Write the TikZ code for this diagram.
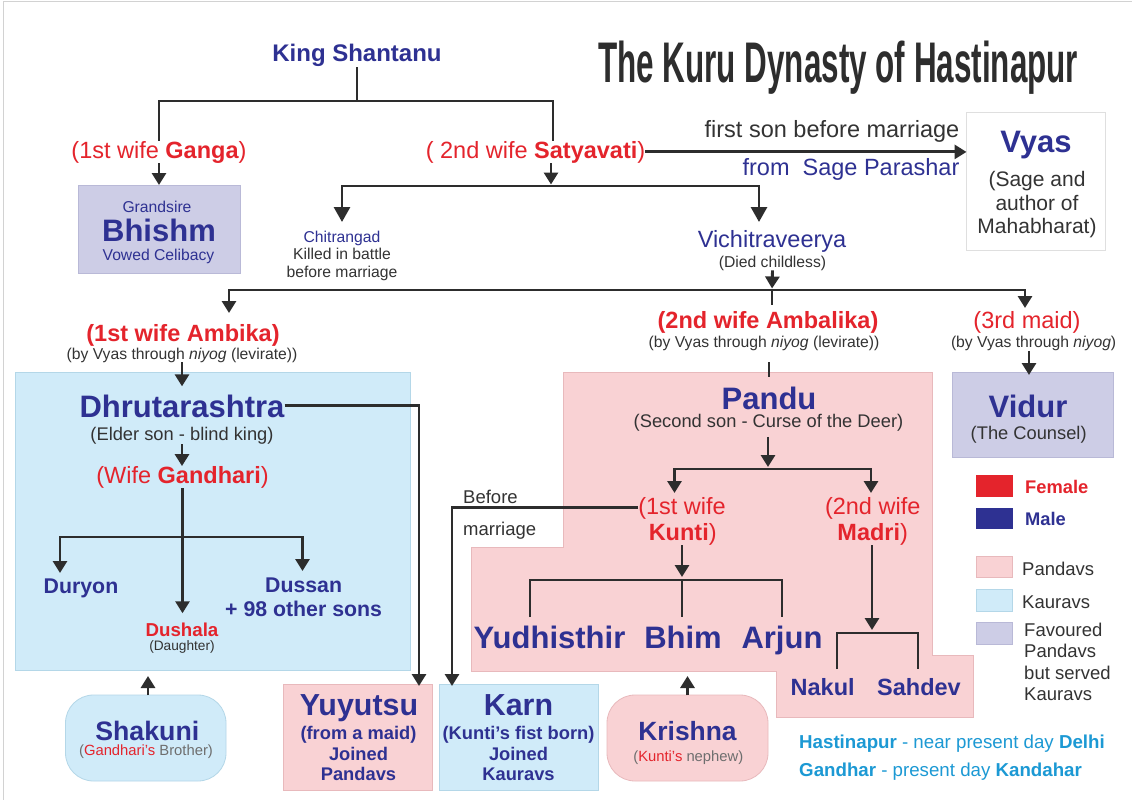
\documentclass[tikz,border=0pt]{standalone}
\usepackage{fontspec}
\setmainfont{Liberation Sans}
\usepackage{graphicx}
\usetikzlibrary{arrows.meta}
\definecolor{kblue}{RGB}{46,49,146}
\definecolor{kred}{RGB}{228,36,44}
\definecolor{kgray}{RGB}{51,51,51}
\definecolor{kline}{RGB}{45,45,45}
\definecolor{ktitle}{RGB}{45,45,45}
\definecolor{kpink}{RGB}{249,210,212}
\definecolor{kpinkb}{RGB}{232,185,188}
\definecolor{klblue}{RGB}{208,235,249}
\definecolor{klblueb}{RGB}{180,215,232}
\definecolor{klav}{RGB}{205,205,230}
\definecolor{klavb}{RGB}{185,185,215}
\definecolor{kcyan}{RGB}{28,153,212}
\definecolor{kmgray}{RGB}{110,110,110}
\newcommand\fz[1]{\fontsize{#1}{#1}\selectfont}
\begin{document}
\begin{tikzpicture}[x=1pt,y=-1pt,
  t/.style={inner sep=0pt, anchor=base},
  tl/.style={inner sep=0pt, anchor=base west},
  conn/.style={draw=kline, line width=2.9pt},
  arr/.style={conn, -{Triangle[length=12pt,width=14pt]}},
  bigarr/.style={conn, -{Triangle[length=15pt,width=16pt]}},
  box/.style={inner sep=0pt, outer sep=0pt, line width=0.8pt, anchor=north west},
  nm/.style={t, text=kblue, font={\fz{31}\bfseries}},
  wife/.style={t, text=kred, font={\fz{23.5}}},
  sub/.style={t, text=kgray, font={\fz{15.7}}},
  mid/.style={t, text=kgray, font={\fz{18.3}}},
]
\fill[white] (0,0) rectangle (1132,800);
\useasboundingbox (0,0) rectangle (1132,800);
\draw[gray!35, line width=1.2pt] (3.5,800) -- (3.5,1.5) -- (1132,1.5);

% title
\node[tl, text=ktitle] (title) at (598,82.7) {\resizebox{480pt}{\height}{\fz{57.3}\bfseries The Kuru Dynasty of Hastinapur}};

% boxes
\node[box, fill=klav, draw=klavb, minimum width=162pt, minimum height=88pt] (bhishmbox) at (78,185) {};
\node[box, fill=white, draw=gray!25, minimum width=138.5pt, minimum height=138pt] (vyasbox) at (966.5,112) {};
\node[box, fill=klblue, draw=klblueb, minimum width=395pt, minimum height=298pt] (kauravbox) at (15,372) {};
\fill[kpink, draw=kpinkb, line width=0.8pt] (563,372) -- (932,372) -- (932,655) -- (973,655) -- (973,717) -- (776,717) -- (776,671) -- (471,671) -- (471,547) -- (563,547) -- cycle;
\node[box, fill=klav, draw=klavb, minimum width=161pt, minimum height=85pt] (vidurbox) at (952,372) {};
\node[box, fill=kpink, draw=kpinkb, minimum width=149pt, minimum height=106pt] (yuyutsubox) at (283,684) {};
\node[box, fill=klblue, draw=klblueb, minimum width=159pt, minimum height=106pt] (karnbox) at (439,684) {};
\node[box, fill=klblue, draw=klblueb, rounded corners=28pt, minimum width=160.5pt, minimum height=86pt] (shakunibox) at (65.5,695) {};
\node[box, fill=kpink, draw=kpinkb, rounded corners=28pt, minimum width=161pt, minimum height=86pt] (krishnabox) at (607,695) {};

% legend
\node[box, fill=kred, minimum width=37pt, minimum height=22pt] (lgf) at (976,475) {};
\node[box, fill=kblue, minimum width=37pt, minimum height=21pt] (lgm) at (976,508) {};
\node[box, fill=kpink, draw=kpinkb, minimum width=36pt, minimum height=21pt] (lgp) at (976,556) {};
\node[box, fill=klblue, draw=klblueb, minimum width=36pt, minimum height=22pt] (lgk) at (976,589) {};
\node[box, fill=klav, draw=klavb, minimum width=36pt, minimum height=22pt] (lgv) at (976,622) {};
\node[tl, text=kred, font={\fz{18.3}\bfseries}] (lgft) at (1025,493.3) {Female};
\node[tl, text=kblue, font={\fz{18.3}\bfseries}] (lgmt) at (1025,525) {Male};
\node[tl, text=kgray, font={\fz{18.5}}] (lgpt) at (1022,575) {Pandavs};
\node[tl, text=kgray, font={\fz{18.5}}] (lgkt) at (1022,608.3) {Kauravs};
\node[tl, text=kgray, font={\fz{18.5}}] (lgv1) at (1024,636.7) {Favoured};
\node[tl, text=kgray, font={\fz{18.5}}] (lgv2) at (1024,657.3) {Pandavs};
\node[tl, text=kgray, font={\fz{18.5}}] (lgv3) at (1024,679.3) {but served};
\node[tl, text=kgray, font={\fz{18.5}}] (lgv4) at (1024,700) {Kauravs};

% top generation
\node[t, text=kblue, font={\fz{24}\bfseries}] (shantanu) at (357,62) {King Shantanu};
\node[wife] (ganga) at (159,158) {(1st wife \textbf{Ganga})};
\node[wife] (satyavati) at (535.5,158) {( 2nd wife \textbf{Satyavati})};
\node[t, text=kgray, font={\fz{23.5}}] (fsbm) at (832,137) {first son before marriage};
\node[t, text=kblue, font={\fz{23.5}}] (parashar) at (851,175) {from\ \ Sage Parashar};

\node[t, text=kblue, font={\fz{31}\bfseries}] (vyas) at (1036,152) {Vyas};
\node[t, text=kgray, font={\fz{21}}] (vyas1) at (1037,186) {(Sage and};
\node[t, text=kgray, font={\fz{21}}] (vyas2) at (1037,210) {author of};
\node[t, text=kgray, font={\fz{21}}] (vyas3) at (1037,233) {Mahabharat)};

\node[t, text=kblue, font={\fz{15.7}}] (grandsire) at (157,212) {Grandsire};
\node[nm] (bhishm) at (159,241) {Bhishm};
\node[t, text=kblue, font={\fz{15.7}}] (celibacy) at (158.5,260) {Vowed Celibacy};

\node[t, text=kblue, font={\fz{15.7}}] (chitrangad) at (342,242) {Chitrangad};
\node[sub] (chitra2) at (342,259.5) {Killed in battle};
\node[sub] (chitra3) at (342,277) {before marriage};

\node[t, text=kblue, font={\fz{23.5}}] (vichi) at (772,247) {Vichitraveerya};
\node[sub] (vichidied) at (772.5,267) {(Died childless)};

% second generation labels
\node[t, text=kred, font={\fz{23.5}\bfseries}] (ambika) at (183,341) {(1st wife Ambika)};
\node[sub] (ambikasub) at (182,359) {(by Vyas through \textit{niyog} (levirate))};
\node[t, text=kred, font={\fz{23.5}\bfseries}] (ambalika) at (768,328.4) {(2nd wife Ambalika)};
\node[sub] (ambalikasub) at (764,347.4) {(by Vyas through \textit{niyog} (levirate))};
\node[wife] (maid) at (1027,328.4) {(3rd maid)};
\node[sub] (maidsub) at (1033.6,347.4) {(by Vyas through \textit{niyog})};

% Kauravs
\node[nm] (dhruta) at (182,417) {Dhrutarashtra};
\node[mid] (elder) at (182,440) {(Elder son - blind king)};
\node[wife] (gandhari) at (182.5,483.3) {(Wife \textbf{Gandhari})};
\node[t, text=kblue, font={\fz{21.3}\bfseries}] (duryon) at (81,593.6) {Duryon};
\node[t, text=kblue, font={\fz{21.3}\bfseries}] (dussan) at (303.6,592) {Dussan};
\node[t, text=kblue, font={\fz{21.3}\bfseries}] (others) at (303.6,616) {+ 98 other sons};
\node[t, text=kred, font={\fz{18.7}\bfseries}] (dushala) at (182,636) {Dushala};
\node[t, text=kgray, font={\fz{13.7}}] (daughter) at (182,650.5) {(Daughter)};

\node[t, text=kblue, font={\fz{26.7}\bfseries}] (shakuni) at (147.3,740.5) {Shakuni};
\node[t, text=kmgray, font={\fz{14.8}}] (shakunisub) at (146,755) {(\textcolor{kred}{Gandhari's} Brother)};

\node[t, text=kblue, font={\fz{30.4}\bfseries}] (yuyutsu) at (359,715) {Yuyutsu};
\node[t, text=kblue, font={\fz{18.3}\bfseries}] (yuy1) at (358.5,739.5) {(from a maid)};
\node[t, text=kblue, font={\fz{18.3}\bfseries}] (yuy2) at (358.5,760.4) {Joined};
\node[t, text=kblue, font={\fz{18.3}\bfseries}] (yuy3) at (358.5,780.4) {Pandavs};

\node[t, text=kblue, font={\fz{30.4}\bfseries}] (karn) at (518.5,715) {Karn};
\node[t, text=kblue, font={\fz{18.3}\bfseries}] (karn1) at (518.5,739.5) {(Kunti’s fist born)};
\node[t, text=kblue, font={\fz{18.3}\bfseries}] (karn2) at (518.5,760.4) {Joined};
\node[t, text=kblue, font={\fz{18.3}\bfseries}] (karn3) at (518.5,780.4) {Kauravs};

% Pandavs
\node[nm] (pandu) at (769,409) {Pandu};
\node[mid] (pandusub) at (768.5,427) {(Second son - Curse of the Deer)};
\node[nm] (vidur) at (1028,417.3) {Vidur};
\node[mid] (vidursub) at (1028.7,439.4) {(The Counsel)};

\node[wife] (kunti1) at (682,514) {(1st wife};
\node[wife] (kunti2) at (682.7,540) {\textbf{Kunti})};
\node[wife] (madri1) at (872.7,514) {(2nd wife};
\node[wife] (madri2) at (872.7,540) {\textbf{Madri})};
\node[tl, text=kgray, font={\fz{18.5}}] (before1) at (463,503.3) {Before};
\node[tl, text=kgray, font={\fz{18.5}}] (before2) at (463,535) {marriage};

\node[nm] (yudh) at (549.5,648.3) {Yudhisthir};
\node[nm] (bhim) at (683,648.3) {Bhim};
\node[nm] (arjun) at (782,648.3) {Arjun};
\node[t, text=kblue, font={\fz{23.5}\bfseries}] (nakul) at (822.7,695.7) {Nakul};
\node[t, text=kblue, font={\fz{23.5}\bfseries}] (sahdev) at (919,695.7) {Sahdev};

\node[t, text=kblue, font={\fz{26.4}\bfseries}] (krishna) at (687.5,740) {Krishna};
\node[t, text=kmgray, font={\fz{14.8}}] (krishnasub) at (688.3,761) {(\textcolor{kred}{Kunti's} nephew)};

\node[tl, text=kcyan, font={\fz{18.7}}] (note1) at (799,748.3) {\textbf{Hastinapur} - near present day \textbf{Delhi}};
\node[tl, text=kcyan, font={\fz{18.7}}] (note2) at (799,776) {\textbf{Gandhar} - present day \textbf{Kandahar}};

% junction coordinates
\coordinate (shbar) at (357,101);
\coordinate (sattop) at (553,141);
\coordinate (satbar) at (551,186);
\coordinate (chitrain) at (342,222);
\coordinate (vichiin) at (759,222);
\coordinate (vichibar) at (772,290);
\coordinate (ambikain) at (229,313);
\coordinate (maidin) at (1025,308);
\coordinate (vidurin) at (1029,375);
\coordinate (gbar) at (182,537);
\coordinate (duryonin) at (60,573);
\coordinate (dussanin) at (302.5,571);
\coordinate (yuyutsuin) at (419,686);
\coordinate (karnin) at (452,686);
\coordinate (pandulink) at (769,362);
\coordinate (pandulinkend) at (769,377);
\coordinate (pbar) at (768,469);
\coordinate (kuntiin) at (674.5,493);
\coordinate (madriin) at (871,493);
\coordinate (kbar) at (682,580);
\coordinate (ybot) at (530,617);
\coordinate (bbot) at (682,617);
\coordinate (abot) at (782,617);
\coordinate (mbar) at (872,633);
\coordinate (nbot) at (837,669);
\coordinate (sbot) at (918,669);
\coordinate (krishnain) at (687.5,676);
\coordinate (shakuniin) at (148,676);

% connectors
\draw[conn] (shantanu.south) -- (shbar);
\draw[conn] (ganga.north) |- (shbar) -| (sattop);
\draw[arr] (ganga.south) -- (bhishmbox.north);
\draw[arr, shorten >=1.5pt] (satyavati.south -| satbar) -- (satbar);
\draw[bigarr] (satbar) -| (chitrain);
\draw[bigarr] (satbar) -| (vichiin);
\draw[arr] (satyavati.east) -- (satyavati.east -| vyasbox.west);
\draw[arr, shorten >=1.5pt] (vichidied.south) -- (vichibar);
\draw[arr] (vichibar) -| (ambikain);
\draw[arr] (vichibar) -| (maidin);
\draw[conn, shorten >=6pt] (vichibar) -- (vichibar |- ambalika.north);
\draw[arr, shorten >=8pt] (ambikasub.south) -- (dhruta.north);
\draw[arr] (elder.south) -- (elder.south |- gandhari.north);
\draw[arr, shorten >=9pt] (gandhari.south) -- (gandhari.south |- dushala.north);
\draw[arr] (gbar) -| (duryonin);
\draw[arr] (gbar) -| (dussanin);
\draw[arr] (dhruta.east) -| (yuyutsuin);
\draw[arr] (kunti1.west) -| (karnin);
\draw[arr] (shakunibox.north -| shakuniin) -- (shakuniin);
\draw[arr] (krishnabox.north) -- (krishnain);
\draw[conn] (pandulink) -- (pandulinkend);
\draw[arr, shorten <=6pt, shorten >=2pt] (pandusub.south -| pbar) -- (pbar);
\draw[arr] (pbar) -| (kuntiin);
\draw[arr] (pbar) -| (madriin);
\draw[arr, shorten >=3pt] (kunti2.south -| kbar) -- (kbar);
\draw[conn] (ybot) |- (kbar) -| (abot);
\draw[conn] (kbar) -- (bbot);
\draw[arr, shorten >=3pt] (madri2.south -| mbar) -- (mbar);
\draw[conn] (nbot) |- (mbar) -| (sbot);
\draw[arr] (maidsub.south -| vidurin) -- (vidurin);
\end{tikzpicture}
\end{document}
